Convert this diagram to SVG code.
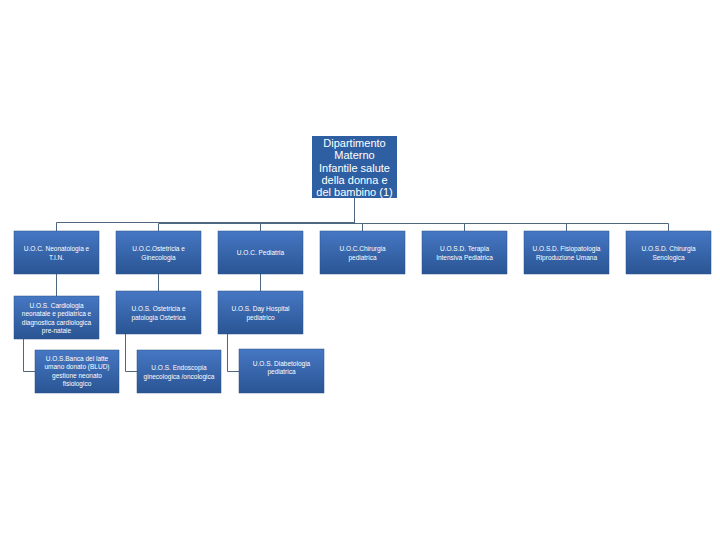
<svg xmlns="http://www.w3.org/2000/svg" width="720" height="540" viewBox="0 0 720 540">
<style>
.box{fill:url(#g);stroke:#2a5087;stroke-width:0.5}
.top{fill:#2f5fa3}
.t{font-family:"Liberation Sans",Arial,sans-serif;font-size:6.5px;fill:#fff;text-anchor:middle;dominant-baseline:central}
.tt{font-family:"Liberation Sans",Arial,sans-serif;font-size:11px;fill:#fff;text-anchor:middle;dominant-baseline:central}
.c{fill:none;stroke:#4f6681;stroke-width:1}
</style>
<defs>
<linearGradient id="g" x1="0" y1="0" x2="0" y2="1">
<stop offset="0" stop-color="#4677c3"/>
<stop offset="1" stop-color="#2a5594"/>
</linearGradient>
</defs>
<rect width="720" height="540" fill="#fff"/>
<g id="connectors">
<path class="c" d="M354.5 198V222.5H56.5V296"/>
<path class="c" d="M354.5 198V223.5H158.5V291"/>
<path class="c" d="M354.5 198V222.5H260.5V291"/>
<path class="c" d="M354.5 198V223.5H362.5V231"/>
<path class="c" d="M354.5 198V223.5H464.5V231"/>
<path class="c" d="M354.5 198V223.5H566.5V231"/>
<path class="c" d="M354.5 198V223.5H668.5V231"/>
<path class="c" d="M23.5 339V371.5H35"/>
<path class="c" d="M125.5 334V371.5H137"/>
<path class="c" d="M227.5 334V371.5H239"/>
</g>
<g id="n0"><rect class="top" x="312" y="136" width="85" height="62"/>
<text class="tt" x="354.5" y="142.5">Dipartimento</text>
<text class="tt" x="354.5" y="155">Materno</text>
<text class="tt" x="354.5" y="167.5">Infantile salute</text>
<text class="tt" x="354.5" y="180">della donna e</text>
<text class="tt" x="354.5" y="192">del bambino (1)</text></g>
<g id="n1"><rect class="box" x="14" y="231" width="85" height="43"/>
<text class="t" x="56.5" y="248">U.O.C. Neonatologia e</text><text class="t" x="56.5" y="257">T.I.N.</text></g>
<g id="n2"><rect class="box" x="116" y="231" width="85" height="43"/>
<text class="t" x="158.5" y="248">U.O.C.Ostetricia e</text><text class="t" x="158.5" y="257">Ginecologia</text></g>
<g id="n3"><rect class="box" x="218" y="231" width="85" height="43"/>
<text class="t" x="260.5" y="252.5">U.O.C. Pediatria</text></g>
<g id="n4"><rect class="box" x="320" y="231" width="85" height="43"/>
<text class="t" x="362.5" y="248">U.O.C.Chirurgia</text><text class="t" x="362.5" y="257">pediatrica</text></g>
<g id="n5"><rect class="box" x="422" y="231" width="85" height="43"/>
<text class="t" x="464.5" y="248">U.O.S.D. Terapia</text><text class="t" x="464.5" y="257">Intensiva Pediatrica</text></g>
<g id="n6"><rect class="box" x="524" y="231" width="85" height="43"/>
<text class="t" x="566.5" y="248">U.O.S.D. Fisiopatologia</text><text class="t" x="566.5" y="257">Riproduzione Umana</text></g>
<g id="n7"><rect class="box" x="626" y="231" width="85" height="43"/>
<text class="t" x="668.5" y="248">U.O.S.D. Chirurgia</text><text class="t" x="668.5" y="257">Senologica</text></g>
<g id="n8"><rect class="box" x="14" y="296" width="85" height="43"/>
<text class="t" x="56.5" y="305">U.O.S. Cardiologia</text><text class="t" x="56.5" y="313.5">neonatale e pediatrica e</text><text class="t" x="56.5" y="322">diagnostica cardiologica</text><text class="t" x="56.5" y="330.5">pre-natale</text></g>
<g id="n9"><rect class="box" x="116" y="291" width="85" height="43"/>
<text class="t" x="158.5" y="308.5">U.O.S. Ostetricia e</text><text class="t" x="158.5" y="317.5">patologia Ostetrica</text></g>
<g id="n10"><rect class="box" x="218" y="291" width="85" height="43"/>
<text class="t" x="260.5" y="308.5">U.O.S. Day Hospital</text><text class="t" x="260.5" y="317.5">pediatrico</text></g>
<g id="n11"><rect class="box" x="35" y="350" width="84" height="43"/>
<text class="t" x="77" y="358">U.O.S.Banca del latte</text><text class="t" x="77" y="366.5">umano donato (BLUD)</text><text class="t" x="77" y="375">gestione neonato</text><text class="t" x="77" y="383.5">fisiologico</text></g>
<g id="n12"><rect class="box" x="137" y="350" width="84" height="43"/>
<text class="t" x="179" y="367.5">U.O.S. Endoscopia</text><text class="t" x="179" y="376">ginecologica /oncologica</text></g>
<g id="n13"><rect class="box" x="239" y="349" width="85" height="44"/>
<text class="t" x="281.5" y="363">U.O.S. Diabetologia</text><text class="t" x="281.5" y="371.5">pediatrica</text></g>
</svg>
